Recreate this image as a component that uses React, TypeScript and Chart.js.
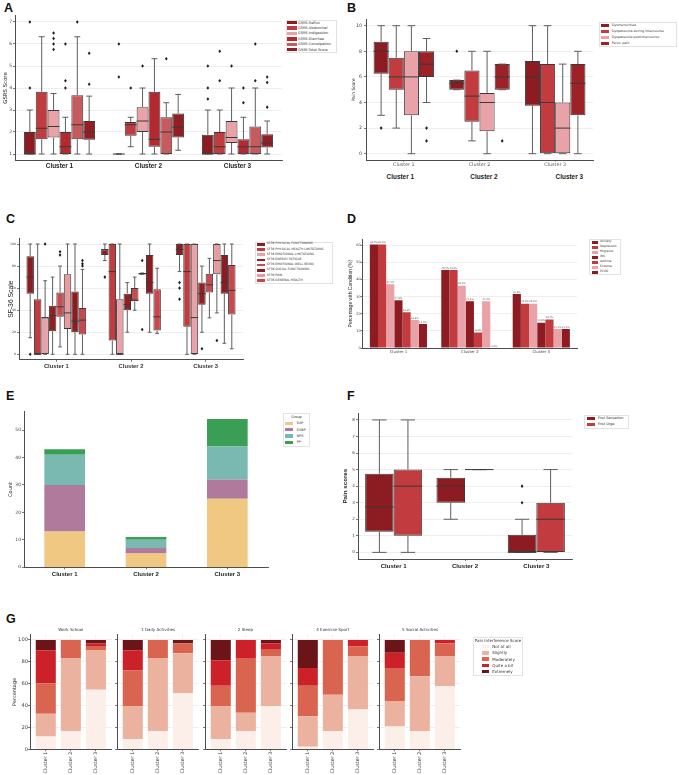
import React, { useEffect, useRef } from 'react';
import { Chart, registerables } from 'chart.js';
Chart.register(...registerables);

const CLUSTERS = ['Cluster 1', 'Cluster 2', 'Cluster 3'];

// ---------- Panel A : GSRS (min, q1, median, q3, max) per cluster ----------
const A_NAMES = ['GSRS-Reflux', 'GSRS-Abdominal', 'GSRS-Indigestion', 'GSRS-Diarrhea', 'GSRS-Constipation', 'GRSR-Total Score'];
const A_REFLUX = [[1, 1, 1, 2, 3], [1, 1, 1, 1, 1], [1, 1, 1, 1.88, 3]];
const A_REFLUX_OUT = [[4, 7], [4.5, 6], [3.5, 4, 5]];
const A_ABDOMINAL = [[1, 1.67, 2.17, 3.83, 6.33], [1.33, 1.83, 2.33, 2.46, 2.67], [1, 1, 1.33, 2, 3]];
const A_ABDOMINAL_OUT = [[], [4], [4.33, 5.67]];
const A_INDIGESTION = [[1, 1.75, 2.25, 3, 3.75], [1, 2, 2.5, 3.13, 4], [1, 1.5, 1.75, 2.5, 4]];
const A_INDIGESTION_OUT = [[5.75, 6, 6.25, 6.5], [5], [5]];
const A_DIARRHEA = [[1, 1, 1.33, 2, 2.67], [1, 1.33, 1.67, 3.83, 5.33], [1, 1, 1.33, 1.67, 2.67]];
const A_DIARRHEA_OUT = [[4, 4.33, 6], [], [3.33, 4]];
const A_CONSTIPATION = [[1, 1.67, 2.33, 3.67, 6.33], [1, 1, 2, 2.67, 3.33], [1, 1, 1.33, 2.25, 4]];
const A_CONSTIPATION_OUT = [[7], [5.33], [4.33, 6]];
const A_TOTAL = [[1, 1.65, 2, 2.5, 3.63], [1.17, 1.75, 2.22, 2.84, 3.71], [1, 1.29, 1.5, 1.9, 2.5]];
const A_TOTAL_OUT = [[4.17, 5.58], [], [3.13, 4.25, 4.5]];
const A_TICKS = [1, 2, 3, 4, 5, 6, 7];

// ---------- Panel B : pain scores ----------
const B_NAMES = ['Dysmenorrhea', 'Dyspareunia during intercourse', 'Dyspareunia postintercourse', 'Pelvic pain'];
const B_DYSMEN = [[3, 6.25, 8, 8.75, 10], [5, 5, 5.5, 5.75, 5.75], [0, 3.75, 6, 7.25, 10]];
const B_DYSMEN_OUT = [[2], [8], []];
const B_DURING = [[2, 5, 6, 7.5, 10], [1, 2.5, 4.5, 6.5, 8], [0, 0, 4, 7, 10]];
const B_DURING_OUT = [[], [], []];
const B_POST = [[0, 3, 6, 8, 10], [0, 1.75, 4, 4.75, 8], [0, 0, 2, 4, 7]];
const B_POST_OUT = [[], [], []];
const B_PELVIC = [[4, 6, 7, 8, 9], [5, 5, 6, 7, 7], [0, 3, 5.5, 7, 8]];
const B_PELVIC_OUT = [[1, 2], [1], []];
const B_TICKS = [0, 2, 4, 6, 8, 10];

// ---------- Panel C : SF-36 ----------
const C_NAMES = ['SF36 PHYSICAL FUNCTIONING', 'SF36 PHYSICAL HEALTH LIMITATIONS', 'SF36 EMOTIONAL LIMITATIONS', 'SF36 ENERGY FATIGUE', 'SF36 EMOTIONAL WELL BEING', 'SF36 SOCIAL FUNCTIONING', 'SF36 PAIN', 'SF36 GENERAL HEALTH'];
const C_PF = [[15, 55, 70, 89, 100], [85, 90, 95, 95, 100], [75, 90, 95, 100, 100]];
const C_PF_OUT = [[0], [70], [65, 60, 50]];
const C_PHL = [[0, 0, 0, 50, 100], [0, 12.5, 75, 100, 100], [0, 25, 75, 100, 100]];
const C_PHL_OUT = [[], [], []];
const C_EL = [[0, 0, 33.3, 33.3, 66.7], [0, 0, 0, 50, 100], [0, 0, 33.3, 100, 100]];
const C_EL_OUT = [[100], [], []];
const C_EF = [[0, 21, 35, 44, 70], [20, 40, 45, 55, 65], [20, 45, 55, 65, 80]];
const C_EF_OUT = [[], [], [5]];
const C_EWB = [[6.7, 34, 43, 56, 80], [40, 48, 49, 60, 70], [33, 56, 63, 73, 87]];
const C_EWB_OUT = [[90, 93], [], []];
const C_SF = [[0, 20, 30, 57, 100], [20, 55, 65, 90, 100], [10, 55, 65, 90, 100]];
const C_SF_OUT = [[], [], []];
const C_PAIN = [[0, 23, 37.5, 72.5, 100], [72.5, 72.5, 73, 73.75, 73.75], [37.5, 72.5, 85, 100, 100]];
const C_PAIN_OUT = [[], [22.5, 85], [12.5]];
const C_GH = [[0, 18, 31, 42, 77], [19, 21.5, 34, 59, 78], [5, 36, 58, 81, 100]];
const C_GH_OUT = [[80, 82, 85], [], []];
const C_TICKS = [0, 20, 40, 60, 80, 100];

// ---------- Panel D : comorbidities (%) ----------
const D_NAMES = ['Anxiety', 'Depression', 'Migraine', 'IBS', 'Asthma', 'Eczema', 'PCOS'];
const D_ANXIETY = [60.5, 45.5, 31.5];
const D_DEPRESSION = [60.5, 45.5, 25.9];
const D_MIGRAINE = [37.2, 36.4, 25.9];
const D_IBS = [27.9, 27.3, 14.8];
const D_ASTHMA = [20.9, 9.1, 16.7];
const D_ECZEMA = [16.3, 27.3, 11.1];
const D_PCOS = [14.0, 0.0, 11.1];
const D_TICKS = [0, 10, 20, 30, 40, 50, 60];

// ---------- Panel E : group counts ----------
const E_NAMES = ['EAP', 'EABP', 'BPS', 'PP'];
const E_EAP = [13, 5, 25];
const E_EABP = [17, 2, 7];
const E_BPS = [11, 3, 12];
const E_PP = [2, 1, 10];
const E_TICKS = [0, 10, 20, 30, 40, 50];

// ---------- Panel F : pain scores ----------
const F_NAMES = ['First Sensation', 'First Urge'];
const F_SENSATION = [[0, 1.25, 2.75, 4.75, 8], [2, 3, 4, 4.5, 5], [0, 0, 0, 1.06, 2]];
const F_SENSATION_OUT = [[], [], [3, 4]];
const F_URGE = [[0, 1, 4, 5, 8], [5, 5, 5, 5, 5], [0, 0, 2, 3, 5]];
const F_URGE_OUT = [[], [], []];
const F_TICKS = [0, 1, 2, 3, 4, 5, 6, 7, 8];

// ---------- Panel G : pain interference (% per level, rows = levels, cols = clusters) ----------
const G_LEVELS = ['Not at all', 'Slightly', 'Moderately', 'Quite a bit', 'Extremely'];
const G_TITLES = ['Work School', '1 Daily Activities', '2 Sleep', '4 Exercise Sport', '5 Social Activities'];
const G_WORK_SCHOOL = [[11.6, 16.7, 54.5], [20.9, 66.7, 36.4], [27.9, 16.6, 3.0], [30.2, 0, 3.0], [9.3, 0, 3.1]];
const G_DAILY = [[9.3, 16.7, 51.5], [30.2, 66.7, 36.4], [32.6, 16.6, 9.1], [18.6, 0, 0], [9.3, 0, 3.0]];
const G_SLEEP = [[9.3, 16.7, 39.4], [30.2, 16.7, 45.5], [18.6, 50, 6.1], [23.3, 16.6, 6.0], [18.6, 0, 3.0]];
const G_EXERCISE = [[2.3, 16.7, 36.4], [27.9, 33.3, 48.5], [27.9, 50, 9.1], [16.3, 0, 6.0], [25.6, 0, 0]];
const G_SOCIAL = [[20.9, 16.7, 57.6], [23.3, 50, 27.3], [30.2, 33.3, 12.1], [14.0, 0, 3.0], [11.6, 0, 0]];
const G_TICKS = [0, 20, 40, 60, 80, 100];

// ---------- styles ----------
const DJ = '"DejaVu Sans", sans-serif';
const LS = '"Liberation Sans", Arial, sans-serif';
const DARK = '#8c1c22';
const DARK2 = '#931f25';
const RED = '#c13b3f';
const RED2 = '#b22a30';
const ROSE = '#c75a5e';
const PINK = '#e9a2a7';
const PELVIC = '#9d2228';
const EDGE = '#3a3a3a';
const WHISK = '#5e5e5e';
const AXIS = '#4d4d4d';
const E_COLORS = ['#f0c882', '#b07a9d', '#7ab9b1', '#3a9f55'];
const G_COLORS = ['#fcefea', '#ebb39f', '#d9644f', '#cc2128', '#6b1519'];

const boxPlugin = {
  id: 'boxWhisker',
  afterDatasetsDraw(chart: any) {
    const ctx = chart.ctx;
    const ys = chart.scales.y;
    const p = (v: number) => ys.getPixelForValue(v);
    chart.data.datasets.forEach((ds: any, i: number) => {
      if (!ds.stats) return;
      const meta = chart.getDatasetMeta(i);
      meta.data.forEach((el: any, j: number) => {
        const s = ds.stats[j];
        if (!s) return;
        const [mn, q1, md, q3, mx] = s;
        const x = el.x;
        const w = el.width;
        const cw = w * 0.5;
        ctx.save();
        ctx.lineWidth = 1;
        ctx.strokeStyle = WHISK;
        ctx.beginPath();
        ctx.moveTo(x, p(q1)); ctx.lineTo(x, p(mn));
        ctx.moveTo(x - cw / 2, p(mn)); ctx.lineTo(x + cw / 2, p(mn));
        ctx.moveTo(x, p(q3)); ctx.lineTo(x, p(mx));
        ctx.moveTo(x - cw / 2, p(mx)); ctx.lineTo(x + cw / 2, p(mx));
        ctx.stroke();
        ctx.strokeStyle = EDGE;
        ctx.beginPath();
        ctx.moveTo(x - w / 2, p(md)); ctx.lineTo(x + w / 2, p(md));
        ctx.stroke();
        ctx.fillStyle = '#1e1e1e';
        (ds.outliers && ds.outliers[j] ? ds.outliers[j] : []).forEach((v: number) => {
          const yy = p(v);
          ctx.beginPath();
          ctx.moveTo(x, yy - 1.8); ctx.lineTo(x + 1.4, yy); ctx.lineTo(x, yy + 1.8); ctx.lineTo(x - 1.4, yy);
          ctx.closePath();
          ctx.fill();
        });
        ctx.restore();
      });
    });
  },
};

const barLabelPlugin = {
  id: 'barLabels',
  afterDatasetsDraw(chart: any) {
    const ctx = chart.ctx;
    ctx.save();
    ctx.font = '2.4px ' + DJ;
    ctx.fillStyle = '#555';
    ctx.textAlign = 'center';
    ctx.textBaseline = 'bottom';
    chart.data.datasets.forEach((ds: any, i: number) => {
      const meta = chart.getDatasetMeta(i);
      meta.data.forEach((el: any, j: number) => {
        ctx.fillText(Number(ds.data[j]).toFixed(1) + '%', el.x, el.y - 0.8);
      });
    });
    ctx.restore();
  },
};

function boxDs(label: string, color: string, stats: number[][], outliers: number[][]) {
  return {
    label, data: stats.map((s) => [s[1], s[3]]), stats, outliers,
    backgroundColor: color, borderColor: EDGE, borderWidth: 1, borderSkipped: false,
    categoryPercentage: 0.8, barPercentage: 1,
  };
}

function axes(o: any) {
  const x: any = o.xLinear
    ? {
        type: 'linear', min: o.xmin, max: o.xmax, offset: false,
        afterBuildTicks: (s: any) => { s.ticks = [0, 1, 2].map((v) => ({ value: v })); },
      }
    : { type: 'category', offset: true };
  x.stacked = !!o.stacked;
  x.afterFit = (s: any) => { s.height = o.xH; };
  x.ticks = {
    autoSkip: false, maxRotation: o.rot || 0, minRotation: o.rot || 0, padding: o.xPad ?? 0,
    color: o.xColor || '#222', font: o.xFont,
    ...(o.xLinear ? { callback: (v: number) => CLUSTERS[v] } : {}),
  };
  x.grid = { offset: false, drawOnChartArea: !!o.xGrid, color: '#efefef', lineWidth: 0.8, drawTicks: true, tickLength: o.xTick ?? 2, tickColor: '#555' };
  x.border = { display: true, color: AXIS, width: 1 };
  const y: any = {
    type: 'linear', min: o.ymin, max: o.ymax, stacked: !!o.stacked,
    afterFit: (s: any) => { s.width = o.yW; },
    afterBuildTicks: (s: any) => { s.ticks = o.yticks.map((v: number) => ({ value: v })); },
    ticks: { display: o.showY !== false, padding: o.yPad ?? 1, color: '#444', font: { size: o.yFont, family: DJ } },
    grid: { drawOnChartArea: o.yGrid !== false, color: '#ebebeb', lineWidth: 0.8, drawTicks: true, tickLength: 2, tickColor: '#555' },
    border: { display: true, color: AXIS, width: 1 },
    title: o.yTitle
      ? { display: true, text: o.yTitle, color: '#222', font: { size: o.yTitleSize, family: o.yTitleFamily || DJ, weight: o.yTitleBold ? 'bold' : 'normal' }, padding: { top: o.yTitlePad, bottom: 0 } }
      : { display: false },
  };
  return {
    responsive: false, animation: false, events: [],
    layout: { padding: { top: o.padTop, right: o.padRight, left: 0, bottom: 0 } },
    plugins: { legend: { display: false }, tooltip: { enabled: false }, title: { display: false } },
    scales: { x, y },
  };
}

function ChartBox({ x, y, w, h, make }: { x: number; y: number; w: number; h: number; make: () => any }) {
  const ref = useRef<HTMLCanvasElement | null>(null);
  useEffect(() => {
    const chart = new Chart(ref.current as HTMLCanvasElement, make());
    return () => chart.destroy();
  }, []);
  return <canvas ref={ref} width={w} height={h} style={{ position: 'absolute', left: x, top: y, width: w, height: h }} />;
}

function T({ x, y, text, size, family = DJ, weight = 'normal', color = '#222', center = false }: any) {
  const lh = size * 1.25;
  const style: any = {
    position: 'absolute', left: x, top: y - lh / 2, fontSize: size + 'px', lineHeight: lh + 'px',
    fontFamily: family, fontWeight: weight, color, whiteSpace: 'nowrap',
  };
  if (center) style.transform = 'translateX(-50%)';
  return <div style={style}>{text}</div>;
}

function Legend({ bx, by, bw, bh, items, swX, swW, swH, txX, y0, dy, font, title, titleY }: any) {
  return (
    <>
      <div style={{ position: 'absolute', left: bx, top: by, width: bw, height: bh, border: '1px solid #e2e2e2', background: '#fff', boxSizing: 'border-box' }} />
      {title ? <T x={bx + bw / 2} y={titleY} text={title} size={font} center color="#333" /> : null}
      {items.map((it: any, i: number) => (
        <React.Fragment key={i}>
          <div style={{ position: 'absolute', left: swX, top: y0 + i * dy - swH / 2, width: swW, height: swH, background: it[1] }} />
          <T x={txX} y={y0 + i * dy} text={it[0]} size={font} color="#333" />
        </React.Fragment>
      ))}
    </>
  );
}

const makeA = () => ({
  type: 'bar',
  data: {
    labels: CLUSTERS,
    datasets: [
      boxDs(A_NAMES[0], DARK, A_REFLUX, A_REFLUX_OUT),
      boxDs(A_NAMES[1], RED, A_ABDOMINAL, A_ABDOMINAL_OUT),
      boxDs(A_NAMES[2], PINK, A_INDIGESTION, A_INDIGESTION_OUT),
      boxDs(A_NAMES[3], RED2, A_DIARRHEA, A_DIARRHEA_OUT),
      boxDs(A_NAMES[4], ROSE, A_CONSTIPATION, A_CONSTIPATION_OUT),
      boxDs(A_NAMES[5], DARK2, A_TOTAL, A_TOTAL_OUT),
    ],
  },
  options: axes({
    yW: 15, xH: 19.4, padTop: 7.4, padRight: 2, ymin: 0.7, ymax: 7.3, yticks: A_TICKS, yFont: 4.5, yPad: 1,
    yTitle: 'GSRS Score', yTitleSize: 5.4, yTitlePad: 2.5,
    xFont: { size: 6.4, family: LS, weight: 'bold' }, xTick: 2, xPad: 0,
  }),
  plugins: [boxPlugin],
});

const makeB = () => ({
  type: 'bar',
  data: {
    labels: CLUSTERS,
    datasets: [
      boxDs(B_NAMES[0], DARK, B_DYSMEN, B_DYSMEN_OUT),
      boxDs(B_NAMES[1], RED, B_DURING, B_DURING_OUT),
      boxDs(B_NAMES[2], PINK, B_POST, B_POST_OUT),
      boxDs(B_NAMES[3], PELVIC, B_PELVIC, B_PELVIC_OUT),
    ],
  },
  options: axes({
    yW: 26, xH: 9.9, padTop: 11.3, padRight: 3, ymin: -0.5, ymax: 10.5, yticks: B_TICKS, yFont: 4.7, yPad: 2,
    yTitle: 'Pain Score', yTitleSize: 4.4, yTitlePad: 11.4,
    xFont: { size: 4.8, family: DJ }, xColor: '#555', xTick: 1.5, xPad: 0,
  }),
  plugins: [boxPlugin],
});

const C_COLORS: Record<string, string> = {
  [C_NAMES[0]]: DARK, [C_NAMES[1]]: RED, [C_NAMES[2]]: PINK, [C_NAMES[3]]: DARK2,
  [C_NAMES[4]]: '#c94a4f', [C_NAMES[5]]: DARK, [C_NAMES[6]]: '#e89a9e', [C_NAMES[7]]: '#c8474c',
};

const makeC = () => ({
  type: 'bar',
  data: {
    labels: CLUSTERS,
    datasets: [
      boxDs(C_NAMES[0], C_COLORS[C_NAMES[0]], C_PF, C_PF_OUT),
      boxDs(C_NAMES[1], C_COLORS[C_NAMES[1]], C_PHL, C_PHL_OUT),
      boxDs(C_NAMES[2], C_COLORS[C_NAMES[2]], C_EL, C_EL_OUT),
      boxDs(C_NAMES[3], C_COLORS[C_NAMES[3]], C_EF, C_EF_OUT),
      boxDs(C_NAMES[4], C_COLORS[C_NAMES[4]], C_EWB, C_EWB_OUT),
      boxDs(C_NAMES[6], C_COLORS[C_NAMES[6]], C_PAIN, C_PAIN_OUT),
      boxDs(C_NAMES[5], C_COLORS[C_NAMES[5]], C_SF, C_SF_OUT),
      boxDs(C_NAMES[7], C_COLORS[C_NAMES[7]], C_GH, C_GH_OUT),
    ],
  },
  options: axes({
    yW: 19, xH: 13.2, padTop: 13.5, padRight: 3, ymin: -5, ymax: 105, yticks: C_TICKS, yFont: 3.2, yPad: 1,
    yTitle: 'SF-36 Scale', yTitleSize: 6.8, yTitleFamily: LS, yTitlePad: 6.9,
    xFont: { size: 5.8, family: LS, weight: 'bold' }, xColor: '#333', xTick: 2, xPad: 0.7,
  }),
  plugins: [boxPlugin],
});

const D_COLORS = [DARK, RED, PINK, DARK, RED, PINK, DARK];
const makeD = () => ({
  type: 'bar',
  data: {
    labels: CLUSTERS,
    datasets: [D_ANXIETY, D_DEPRESSION, D_MIGRAINE, D_IBS, D_ASTHMA, D_ECZEMA, D_PCOS].map((d, i) => ({
      label: D_NAMES[i], data: d, backgroundColor: D_COLORS[i], borderWidth: 0, categoryPercentage: 0.8, barPercentage: 1,
    })),
  },
  options: axes({
    yW: 22.7, xH: 12, padTop: 14.3, padRight: 3, ymin: 0, ymax: 63.5, yticks: D_TICKS, yFont: 3.5, yPad: 0,
    yTitle: 'Percentage with Condition (%)', yTitleSize: 5, yTitleFamily: LS, yTitlePad: 7.7,
    xFont: { size: 3.9, family: DJ }, xColor: '#444', xTick: 1, xPad: 0.5,
  }),
  plugins: [barLabelPlugin],
});

const makeE = () => ({
  type: 'bar',
  data: {
    labels: CLUSTERS,
    datasets: [E_EAP, E_EABP, E_BPS, E_PP].map((d, i) => ({
      label: E_NAMES[i], data: d, backgroundColor: E_COLORS[i], borderWidth: 0, categoryPercentage: 1, barPercentage: 0.5,
    })),
  },
  options: axes({
    yW: 24, xH: 14.7, padTop: 11.7, padRight: 4, ymin: 0, ymax: 56.7, yticks: E_TICKS, yFont: 4.5, yPad: 1, yGrid: false,
    yTitle: 'Count', yTitleSize: 5, yTitlePad: 8, stacked: true,
    xFont: { size: 6, family: LS, weight: 'bold' }, xTick: 2, xPad: 1.4,
  }),
});

const makeF = () => ({
  type: 'bar',
  data: {
    labels: CLUSTERS,
    datasets: [
      boxDs(F_NAMES[0], DARK, F_SENSATION, F_SENSATION_OUT),
      boxDs(F_NAMES[1], RED, F_URGE, F_URGE_OUT),
    ],
  },
  options: axes({
    yW: 18, xH: 16, padTop: 13.3, padRight: 4, ymin: -0.4, ymax: 8.4, yticks: F_TICKS, yFont: 4.2, yPad: 1,
    yTitle: 'Pain scores', yTitleSize: 6.2, yTitleFamily: LS, yTitleBold: true, yTitlePad: 1.3,
    xFont: { size: 6.1, family: LS, weight: 'bold' }, xTick: 2, xPad: 2,
  }),
  plugins: [boxPlugin],
});

const G_DATA = [G_WORK_SCHOOL, G_DAILY, G_SLEEP, G_EXERCISE, G_SOCIAL];
const G_LEFT = [30, 117.3, 204.6, 291.9, 379.2];
const G_W = 81.7;

const makeG = (k: number) => () => ({
  type: 'bar',
  data: {
    datasets: G_DATA[k].map((row, i) => ({
      label: G_LEVELS[i],
      data: row.map((v, c) => ({ x: c, y: v })),
      backgroundColor: G_COLORS[i], borderWidth: 0, categoryPercentage: 1, barPercentage: 0.8,
    })),
  },
  options: axes({
    xLinear: true, xmin: -0.63, xmax: 2.63,
    yW: k === 0 ? 30 : 4, xH: 25.7, padTop: 9.5, padRight: 2.3, ymin: 0, ymax: 105, yticks: G_TICKS, yFont: 5.2, yPad: 0,
    showY: k === 0, stacked: true, xGrid: true,
    yTitle: k === 0 ? 'Percentage' : undefined, yTitleSize: 5, yTitlePad: 11.7,
    xFont: { size: 4.8, family: DJ }, xColor: '#333', rot: 90, xTick: 2, xPad: 0.5,
  }),
});

export default function App() {
  const panelLabel = (t: string, x: number, capTop: number) => (
    <div style={{ position: 'absolute', left: x, top: capTop - 1.6, fontSize: '12.5px', lineHeight: '13px', fontFamily: LS, fontWeight: 'bold', color: '#111' }}>{t}</div>
  );
  return (
    <div style={{ position: 'absolute', left: 0, top: 0, width: 679, height: 775, background: '#fff', overflow: 'hidden' }}>
      {panelLabel('A', 4, 4)}
      {panelLabel('B', 347, 4)}
      {panelLabel('C', 6, 215)}
      {panelLabel('D', 347, 215)}
      {panelLabel('E', 6, 392)}
      {panelLabel('F', 347, 392)}
      {panelLabel('G', 6, 615)}

      <ChartBox x={0} y={8} w={284} h={172} make={makeA} />
      <Legend bx={286} by={19.7} bw={51} bh={33} items={A_NAMES.map((n, i) => [n, [DARK, RED, PINK, RED2, ROSE, DARK2][i]])}
        swX={287.3} swW={9.4} swH={3.3} txX={298} y0={22.7} dy={5.4} font={3.5} />

      <ChartBox x={340} y={8} w={256} h={162} make={makeB} />
      <Legend bx={598.7} by={22} bw={78} bh={25.3} items={B_NAMES.map((n, i) => [n, [DARK, RED, PINK, PELVIC][i]])}
        swX={600.7} swW={8.7} swH={3.3} txX={611.7} y0={25.3} dy={6} font={3.3} />
      {CLUSTERS.map((c, i) => (
        <T key={c} x={[400.3, 484, 569.3][i]} y={176.7} text={c} size={6.4} family={LS} weight="bold" center />
      ))}

      <ChartBox x={0} y={225} w={246} h={148} make={makeC} />
      <Legend bx={255.3} by={241.7} bw={78} bh={42.3} items={C_NAMES.map((n) => [n, C_COLORS[n]])}
        swX={256.7} swW={8.3} swH={2.8} txX={266.7} y0={244.3} dy={5.2} font={3.1} />

      <ChartBox x={340} y={225} w={240} h={135} make={makeD} />
      <Legend bx={589} by={239} bw={32} bh={36} items={D_NAMES.map((n, i) => [n, D_COLORS[i]])}
        swX={591.7} swW={6.7} swH={2.7} txX={600} y0={242.3} dy={5} font={3.0} />

      <ChartBox x={0} y={400} w={272} h={182} make={makeE} />
      <Legend bx={283} by={413} bw={27} bh={34} items={E_NAMES.map((n, i) => [n, E_COLORS[i]])}
        swX={285} swW={8.3} swH={3.3} txX={296.7} y0={423.3} dy={6.4} font={3.5} title="Group" titleY={416.7} />

      <ChartBox x={340} y={400} w={236} h={175} make={makeF} />
      <Legend bx={584} by={415} bw={45} bh={13.5} items={F_NAMES.map((n, i) => [n, [DARK, RED][i]])}
        swX={586.7} swW={8.3} swH={3.3} txX={597.7} y0={418.3} dy={6} font={3.5} />

      {G_LEFT.map((l, k) => (
        <React.Fragment key={k}>
          <ChartBox x={k === 0 ? 0 : Math.round(l - 4)} y={625} w={k === 0 ? 114 : 88} h={150} make={makeG(k)} />
          <T x={l + G_W / 2} y={630} text={G_TITLES[k]} size={4.1} color="#333" center />
        </React.Fragment>
      ))}
      <Legend bx={472.7} by={637.3} bw={50.6} bh={38.7} items={G_LEVELS.map((n, i) => [n, G_COLORS[i]])}
        swX={481.7} swW={7.3} swH={3.5} txX={492.3} y0={646.7} dy={6.25} font={4} title="Pain Interference Score" titleY={640.3} />
    </div>
  );
}
